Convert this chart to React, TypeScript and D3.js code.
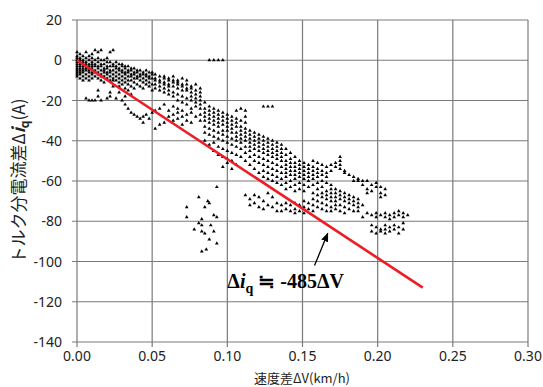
import React from "react";
import * as d3 from "d3";

// measured samples, grouped by speed difference (km/h) -> current differences (A)
const sampleColumns: [number, number[]][] = [
  [0.0, [4, 2, 1, 0, -1, -2, -3, -4, -5, -6, -7, -8]],
  [0.002, [3, 1, 0, -1, -2, -3, -4, -5, -6, -7, -9]],
  [0.004, [2, 0, -1, -2, -3, -4, -5, -6, -8, -10]],
  [0.006, [4, 1, -1, -2, -3, -4, -5, -7, -9, -19]],
  [0.008, [2, 0, -2, -3, -4, -5, -6, -8, -10, -20]],
  [0.01, [3, 1, -1, -2, -3, -4, -6, -7, -9, -20]],
  [0.012, [5, 0, -2, -3, -5, -6, -8, -20]],
  [0.014, [4, 1, -1, -3, -4, -6, -7, -9, -15, -18]],
  [0.016, [5, 0, -2, -3, -5, -7, -8, -10, -20]],
  [0.018, [0, -2, -4, -5, -6, -8, -11]],
  [0.02, [1, -1, -3, -4, -6, -7, -9, -19]],
  [0.022, [4, -1, -3, -5, -6, -8, -10, -16, -18]],
  [0.024, [5, -2, -3, -5, -7, -9, -10, -13]],
  [0.026, [-1, -3, -4, -6, -8, -10, -19]],
  [0.028, [-2, -4, -5, -7, -9, -11, -13, -16]],
  [0.03, [-2, -3, -5, -6, -8, -10, -12, -20]],
  [0.032, [-3, -4, -6, -7, -9, -11, -14, -18, -22]],
  [0.034, [-3, -5, -6, -8, -10, -12, -15, -24]],
  [0.036, [-4, -5, -7, -8, -10, -13, -17, -26]],
  [0.038, [-4, -6, -7, -9, -11, -14, -27]],
  [0.04, [-5, -6, -8, -9, -12, -28]],
  [0.042, [-5, -7, -8, -10, -13, -29]],
  [0.044, [-6, -7, -9, -11, -14, -28, -31]],
  [0.046, [-5, -7, -8, -10, -12, -27]],
  [0.048, [-6, -8, -9, -11, -13, -29]],
  [0.05, [-6, -7, -9, -12, -15, -26]],
  [0.052, [-7, -9, -10, -12, -14, -25, -34]],
  [0.055, [-8, -10, -11, -13, -15, -24, -32]],
  [0.058, [-8, -9, -11, -12, -14, -16, -22, -31]],
  [0.061, [-9, -10, -12, -13, -15, -17, -25, -28]],
  [0.064, [-8, -10, -11, -13, -16, -18, -23, -27, -30]],
  [0.067, [-10, -11, -12, -14, -17, -20, -24, -26, -29]],
  [0.07, [-9, -12, -13, -15, -18, -21, -25, -28, -32]],
  [0.073, [-10, -12, -14, -15, -19, -22, -27, -30]],
  [0.076, [-13, -14, -16, -18, -20, -24, -26, -31]],
  [0.079, [-12, -15, -17, -19, -21, -23, -28]],
  [0.082, [-14, -16, -18, -20, -22, -24, -27, -30]],
  [0.085, [-21, -24, -26, -28, -30, -33, -36, -40]],
  [0.088, [0, -23, -25, -27, -29, -31, -34, -37, -42]],
  [0.091, [0, -24, -26, -28, -30, -32, -35, -38, -41, -45]],
  [0.094, [0, -25, -27, -29, -31, -33, -36, -39, -43, -47]],
  [0.097, [0, -26, -28, -30, -32, -35, -37, -40, -44, -48, -53]],
  [0.1, [-27, -29, -31, -33, -35, -38, -41, -45, -49, -51]],
  [0.103, [-28, -30, -32, -34, -36, -39, -42, -46, -50, -54]],
  [0.106, [-25, -29, -31, -33, -36, -38, -40, -43, -47, -52]],
  [0.109, [-24, -30, -33, -35, -37, -39, -41, -44, -48]],
  [0.112, [-25, -28, -31, -34, -36, -38, -40, -43, -46, -50, -67]],
  [0.115, [-35, -37, -39, -41, -43, -45, -48, -52, -69, -72]],
  [0.118, [-36, -38, -40, -42, -44, -47, -50, -54, -67, -71]],
  [0.121, [-37, -39, -41, -43, -45, -48, -51, -56, -68, -73]],
  [0.124, [-23, -38, -40, -42, -44, -46, -49, -52, -55, -58, -70, -74]],
  [0.127, [-23, -39, -41, -43, -45, -47, -50, -53, -56, -59, -66, -72]],
  [0.13, [-23, -40, -42, -44, -46, -48, -51, -54, -57, -60, -68, -73]],
  [0.133, [-41, -43, -45, -47, -49, -52, -55, -58, -61, -71, -75]],
  [0.136, [-42, -44, -46, -48, -50, -53, -56, -59, -62, -72, -75]],
  [0.139, [-44, -47, -50, -52, -54, -56, -58, -61, -64, -71, -74]],
  [0.142, [-46, -49, -51, -53, -55, -57, -60, -63, -72, -75]],
  [0.145, [-48, -51, -53, -55, -57, -59, -62, -65, -71, -74, -76]],
  [0.148, [-50, -52, -54, -56, -58, -61, -64, -72, -75]],
  [0.151, [-51, -53, -55, -57, -59, -62, -65, -70, -73, -76]],
  [0.154, [-52, -54, -56, -58, -60, -63, -71, -74]],
  [0.157, [-50, -53, -55, -57, -59, -62, -66, -69, -72, -75]],
  [0.16, [-51, -54, -56, -58, -61, -64, -67, -70, -73]],
  [0.163, [-52, -55, -57, -60, -63, -66, -68, -71, -74]],
  [0.166, [-53, -56, -58, -61, -65, -67, -69, -72, -75]],
  [0.169, [-52, -55, -62, -64, -66, -68, -70, -73, -75]],
  [0.172, [-51, -53, -64, -66, -68, -70, -72, -74]],
  [0.175, [-48, -50, -52, -54, -65, -67, -69, -72, -75]],
  [0.178, [-55, -56, -66, -68, -70, -73, -76]],
  [0.181, [-57, -67, -69, -71, -74]],
  [0.184, [-58, -60, -68, -70, -72, -75]],
  [0.187, [-59, -60, -69, -71, -73, -75]],
  [0.19, [-60, -62, -72, -78]],
  [0.193, [-60, -64, -66, -76]],
  [0.196, [-62, -65, -77, -82, -85]],
  [0.199, [-61, -63, -76, -78, -83, -86]],
  [0.202, [-63, -66, -68, -77, -84, -85]],
  [0.205, [-64, -67, -76, -78, -82, -84, -86]],
  [0.208, [-77, -79, -83, -85]],
  [0.211, [-76, -78, -82, -84]],
  [0.214, [-75, -77, -83, -86]],
  [0.217, [-76, -78, -81, -84]],
  [0.22, [-77]],
];

// the scattered group below the main cloud
const strayX = [0.073, 0.085, 0.088, 0.091, 0.093, 0.073, 0.083, 0.083, 0.083, 0.081, 0.089, 0.078, 0.091, 0.085, 0.088, 0.093, 0.083, 0.086, 0.093, 0.081, 0.087];
const strayY = [-73, -73, -71, -77, -78, -78, -79, -82, -85, -81, -82, -84, -85, -86, -89, -91, -95, -94, -63, -68, -70];

// regression line  Δiq ≒ -485ΔV
const fitX = [0, 0.23];
const fitY = [0, -113];

const xTicks = [0, 0.05, 0.1, 0.15, 0.2, 0.25, 0.3];
const yTicks = [20, 0, -20, -40, -60, -80, -100, -120, -140];

const W = 543;
const H = 387;

export default function App() {
  const x = d3.scaleLinear().domain([0, 0.3]).range([77, 528]);
  const y = d3.scaleLinear().domain([20, -140]).range([20, 342]);

  const points: [number, number][] = [];
  sampleColumns.forEach(([vx, ys]) => ys.forEach((vy) => points.push([vx, vy])));
  strayX.forEach((vx, i) => points.push([vx, strayY[i]]));

  const tri = d3.symbol().type(d3.symbolTriangle).size(6)() as string;
  const fitLine = d3
    .line<number>()
    .x((d) => x(d))
    .y((d, i) => y(fitY[i]))(fitX) as string;

  const grid = "#7a7a7a";
  const tickFont = "'Noto Sans', 'DejaVu Sans', sans-serif";

  return (
    <svg
      width={W}
      height={H}
      style={{ position: "absolute", left: 0, top: 0, background: "#fff" }}
    >
      <defs>
        <marker id="arr" viewBox="0 0 10 10" refX="9" refY="5" markerWidth="7" markerHeight="7" orient="auto">
          <path d="M0,1 L10,5 L0,9 z" fill="#000" />
        </marker>
      </defs>

      {/* grid */}
      {yTicks.map((t) => (
        <line key={"gy" + t} x1={72} x2={x(0.3)} y1={y(t)} y2={y(t)} stroke={grid} strokeWidth={1.2} />
      ))}
      {xTicks.map((t) => (
        <line key={"gx" + t} x1={x(t)} x2={x(t)} y1={y(20)} y2={y(-140) + 5} stroke={grid} strokeWidth={1.2} />
      ))}

      {/* y tick labels */}
      {yTicks.map((t) => (
        <text key={"ly" + t} x={62} y={y(t) + 5} textAnchor="end" fontSize={14} fontFamily={tickFont} fill="#222">
          {t}
        </text>
      ))}
      {/* x tick labels */}
      {xTicks.map((t) => (
        <text key={"lx" + t} x={x(t)} y={361} textAnchor="middle" fontSize={14} fontFamily={tickFont} fill="#222">
          {d3.format(".2f")(t)}
        </text>
      ))}

      {/* samples */}
      {points.map(([vx, vy], i) => (
        <path key={"p" + i} d={tri} transform={`translate(${x(vx)},${y(vy)})`} fill="#000" />
      ))}

      {/* regression */}
      <path d={fitLine} fill="none" stroke="#ee1c25" strokeWidth={2.6} />

      {/* annotation */}
      <line
        x1={x(0.158)}
        y1={y(-102)}
        x2={x(0.1668)}
        y2={y(-86)}
        stroke="#000"
        strokeWidth={1.3}
        markerEnd="url(#arr)"
      />
      <text x={x(0.1)} y={y(-113)} fontFamily="'Liberation Serif', 'Times New Roman', serif" fontWeight="bold" fontSize={20} fill="#000">
        Δ<tspan fontStyle="italic">i</tspan>
        <tspan fontSize={14} dy={5}>q</tspan>
        <tspan dy={-5}> ≒ -485ΔV</tspan>
      </text>

      {/* axis titles */}
      <text
        transform="translate(25,181) rotate(-90)"
        textAnchor="middle"
        fontSize={17}
        fontFamily="'Noto Sans CJK JP', sans-serif"
        fill="#222"
      >
        トルク分電流差Δ<tspan fontStyle="italic" fontWeight="bold">i</tspan>
        <tspan fontSize={12} fontWeight="bold" dy={4}>q</tspan>
        <tspan dy={-4}>(A)</tspan>
      </text>
      <text x={302} y={383} textAnchor="middle" fontSize={13} fontFamily="'Noto Sans CJK JP', sans-serif" fill="#222">
        速度差ΔV(km/h)
      </text>
    </svg>
  );
}
